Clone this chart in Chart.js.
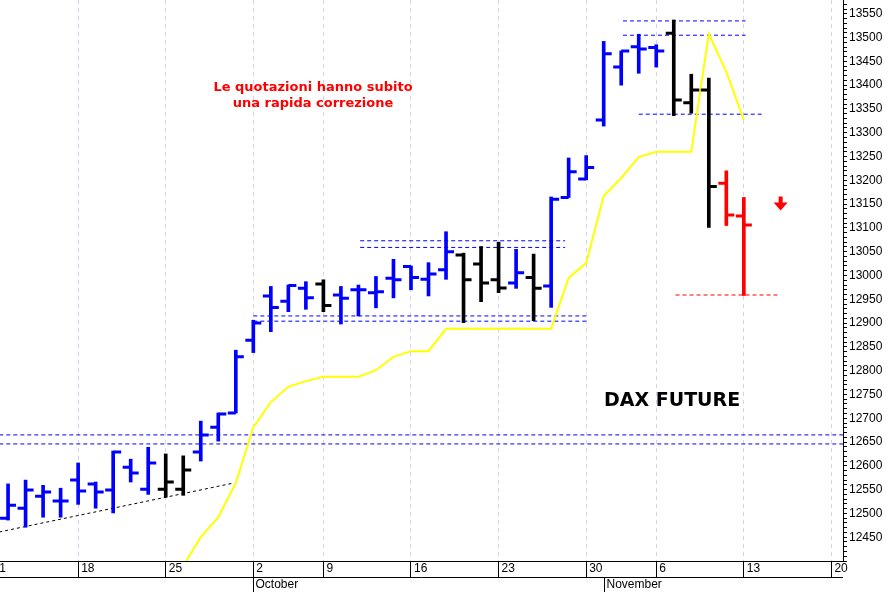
<!DOCTYPE html>
<html>
<head>
<meta charset="utf-8">
<script src="https://cdn.jsdelivr.net/npm/chart.js@4.4.0/dist/chart.umd.min.js"></script>
<style>
  html, body { margin: 0; padding: 0; background: #fff; }
  #wrap { width: 892px; height: 592px; }
</style>
</head>
<body>
<div id="wrap"><canvas id="c"></canvas></div>
<script>
// trading day index (0 = 11 Sep), holidays 3 Oct and 31 Oct skipped
const days = [1,2,3,4,5,6,7,8,9,10,11,12,13,14,15,16,17,18,19,20,21,22,23,24,25,26,27,28,29,30,31,32,33,34,35,36,37,38,39,40,41,42,43];
const opens  = [12490,12511,12536,12526,12570,12562,12549,12597,12551,12551,12551,12629,12681,12711,12864,12957,12946,12973,12982,12959,12970,12964,12994,13019,12992,13012,13043,13024,12991,12984,12996,12978,13164,13203,13327,13438,13481,13479,13509,13363,13390,13194,13125];
const highs  = [12562,12570,12559,12553,12606,12566,12631,12614,12639,12625,12621,12694,12711,12843,12906,12977,12980,12987,12991,12977,12980,12998,13034,13020,13027,13092,13047,13061,13070,13055,13045,13165,13247,13252,13492,13472,13507,13485,13537,13423,13415,13220,13164];
const lows   = [12486,12471,12492,12492,12519,12511,12501,12566,12540,12534,12538,12610,12652,12711,12838,12882,12924,12929,12924,12898,12915,12932,12953,12970,12957,12992,12901,12945,12964,12973,12905,12933,13164,13201,13314,13400,13425,13438,13336,13341,13101,13105,12958];
const closes = [12517,12549,12545,12526,12547,12545,12629,12585,12606,12566,12591,12665,12709,12829,12900,12933,12979,12953,12937,12952,12970,12966,12991,12996,13003,13050,12991,12984,12974,13006,12973,13160,13218,13227,13466,13472,13476,13472,13369,13390,13187,13127,13106];
const barColors = ['b','b','b','b','b','b','b','b','b','k','k','b','b','b','b','b','b','b','k','b','b','b','b','b','b','b','k','k','k','b','k','b','b','b','b','b','b','b','k','k','k','r','r'];

const stopDays = [11,12,13,14,15,16,17,18,19,20,21,22,23,24,25,26,27,28,29,30,31,32,33,34,35,36,37,38,39,40,41,42,43];
const stopValues = [12390,12450,12492,12564,12681,12734,12766,12778,12787,12787,12787,12801,12829,12841,12841,12888,12888,12888,12888,12888,12888,12888,12995,13026,13167,13205,13249,13260,13260,13260,13508,13428,13327];

const tickDays = [0,5,10,15,19,24,29,34,38,43,48];
const tickLabels = ['11','18','25','2','9','16','23','30','6','13','20'];
const monthDays = [15, 35];
const monthLabels = ['October', 'November'];

// dashed reference lines: [fromDay, toDay, value, colour]
const levels = [
  [0.5, 49, 12665, '#0000ff'],
  [0.5, 49, 12646, '#0000ff'],
  [15, 34.1, 12915, '#0000ff'],
  [15, 34.1, 12904, '#0000ff'],
  [21.1, 32.8, 13073, '#0000ff'],
  [21.1, 32.8, 13059, '#0000ff'],
  [36.1, 43.1, 13535, '#0000ff'],
  [36.1, 43.1, 13505, '#0000ff'],
  [37, 44.1, 13339, '#0000ff'],
  [39.1, 45.1, 12959, '#ff0000']
];
const trendLine = [[0.5, 12461], [13.9, 12564]];

const colorMap = { b: '#0000ff', k: '#000000', r: '#ff0000' };

const datasets = [];
levels.forEach(l => {
  datasets.push({
    type: 'line',
    data: [{x: l[0], y: l[2]}, {x: l[1], y: l[2]}],
    borderColor: l[3], borderWidth: 1, borderDash: [4, 3],
    pointRadius: 0, order: 5
  });
});
datasets.push({
  type: 'line',
  data: trendLine.map(p => ({x: p[0], y: p[1]})),
  borderColor: '#000', borderWidth: 1, borderDash: [3, 3],
  pointRadius: 0, order: 5
});
datasets.push({
  type: 'line',
  data: stopDays.map((d, i) => ({x: d, y: stopValues[i]})),
  borderColor: '#ffff00', borderWidth: 2, pointRadius: 0, tension: 0, order: 4
});
datasets.push({
  type: 'bar',
  data: days.map((d, i) => ({x: d, y: [lows[i], highs[i]]})),
  backgroundColor: barColors.map(c => colorMap[c]),
  barThickness: 3, order: 1
});

const ohlcTicks = {
  id: 'ohlcTicks',
  afterDatasetsDraw(chart) {
    const {ctx, scales: {x, y}} = chart;
    ctx.save();
    ctx.lineWidth = 3;
    days.forEach((d, i) => {
      const px = x.getPixelForValue(d);
      ctx.strokeStyle = colorMap[barColors[i]];
      ctx.beginPath();
      ctx.moveTo(px - 8, y.getPixelForValue(opens[i]));
      ctx.lineTo(px, y.getPixelForValue(opens[i]));
      ctx.moveTo(px, y.getPixelForValue(closes[i]));
      ctx.lineTo(px + 8, y.getPixelForValue(closes[i]));
      ctx.stroke();
    });
    // arrow
    const ax = x.getPixelForValue(45.1), ay = y.getPixelForValue(13145);
    ctx.fillStyle = '#ff0000';
    ctx.fillRect(ax - 2, ay - 10, 4, 7);
    ctx.beginPath();
    ctx.moveTo(ax - 7, ay - 4); ctx.lineTo(ax + 7, ay - 4); ctx.lineTo(ax, ay + 4);
    ctx.closePath(); ctx.fill();
    // notes
    ctx.textAlign = 'center';
    ctx.font = 'bold 13px "DejaVu Sans"';
    ctx.fillStyle = '#ff0000';
    ctx.fillText('Le quotazioni hanno subito', 313, 91);
    ctx.fillText('una rapida correzione', 313, 107);
    ctx.textAlign = 'left';
    ctx.font = 'bold 19px "DejaVu Sans"';
    ctx.fillStyle = '#000';
    ctx.fillText('DAX FUTURE', 604, 406);
    ctx.restore();
  },
  afterDraw(chart) {
    const {ctx, scales: {x}, chartArea} = chart;
    ctx.save();
    ctx.strokeStyle = '#000'; ctx.lineWidth = 1;
    ctx.beginPath();
    ctx.moveTo(0, 577.5); ctx.lineTo(chartArea.right, 577.5);
    ctx.moveTo(0, chartArea.bottom + 0.5); ctx.lineTo(chartArea.right, chartArea.bottom + 0.5);
    ctx.stroke();
    ctx.font = '12px "Liberation Sans"';
    ctx.fillStyle = '#000';
    ctx.textBaseline = 'middle';
    monthDays.forEach((d, i) => {
      const px = Math.round(x.getPixelForValue(d)) + 0.5;
      ctx.beginPath(); ctx.moveTo(px, 577); ctx.lineTo(px, 592); ctx.stroke();
      ctx.fillText(monthLabels[i], px + 2, 585);
    });
    tickDays.forEach((d, i) => {
      const px = x.getPixelForValue(d);
      ctx.fillText(tickLabels[i], px + 3, 569);
    });
    ctx.restore();
  }
};

new Chart(document.getElementById('c'), {
  data: { datasets },
  plugins: [ohlcTicks],
  options: {
    responsive: true, maintainAspectRatio: false, animation: false,
    layout: { padding: 0 },
    plugins: { legend: { display: false }, tooltip: { enabled: false } },
    scales: {
      x: {
        type: 'linear', min: 0.54, max: 48.66, offset: false,
        afterBuildTicks: s => { s.ticks = tickDays.map(v => ({value: v})); },
        afterFit: s => { s.height = 31; s.paddingLeft = 0; s.paddingRight = 0; },
        ticks: { display: false },
        border: { display: true, color: '#000', dash: [4, 4] },
        grid: { offset: false, color: '#d4d4ee', tickLength: 16, tickColor: '#000', tickBorderDash: [] }
      },
      y: {
        position: 'right', min: 12400, max: 13579,
        afterBuildTicks: s => {
          const t = [];
          for (let v = 12400; v <= 13570; v += 10) t.push({value: v});
          s.ticks = t;
        },
        afterFit: s => { s.width = 49; s.paddingTop = 0; s.paddingBottom = 0; },
        ticks: {
          autoSkip: false, padding: 2, color: '#000',
          font: { family: 'Liberation Sans', size: 12 },
          callback: v => (v % 50 === 0 && v > 12400) ? String(v) : ''
        },
        border: { display: true, color: '#000' },
        grid: { drawOnChartArea: false, tickLength: 4, tickColor: '#000' }
      }
    }
  }
});
</script>
</body>
</html>
